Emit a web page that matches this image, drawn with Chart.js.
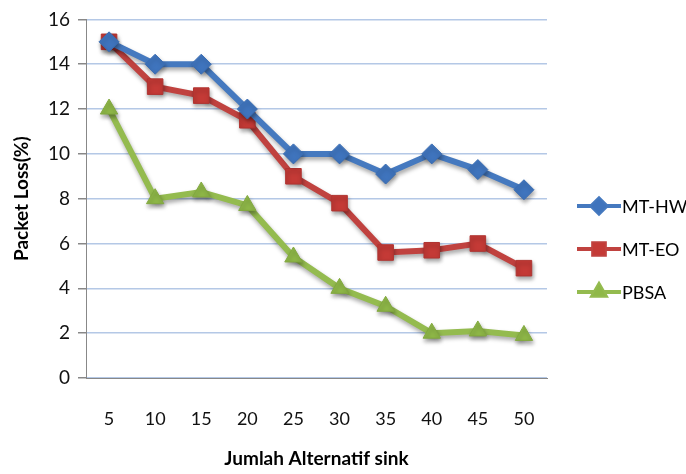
<!DOCTYPE html>
<html>
<head>
<meta charset="utf-8">
<script src="https://cdn.jsdelivr.net/npm/chart.js@4/dist/chart.umd.min.js"></script>
<style>
  html, body { margin: 0; padding: 0; background: #fff; }
  #wrap { width: 686px; height: 474px; }
</style>
</head>
<body>
<div id="wrap"><canvas id="chart"></canvas></div>
<script>
const sinkLabels = ['5', '10', '15', '20', '25', '30', '35', '40', '45', '50'];
const mtHw = [15, 14, 14, 12, 10, 10, 9.1, 10, 9.3, 8.4];
const mtEo = [15, 13, 12.6, 11.5, 9, 7.8, 5.6, 5.7, 6, 4.9];
const pbsa = [12, 8, 8.3, 7.7, 5.4, 4, 3.2, 2, 2.1, 1.9];
const seriesNames = ['MT-HW', 'MT-EO', 'PBSA'];

const FONT = 'Lato, "Open Sans", sans-serif';

// soft drop shadow on the lines and markers
const shadow = {
    id: 'shadow',
    beforeDatasetsDraw(chart) {
        const { ctx } = chart;
        ctx.save();
        ctx.shadowColor = 'rgba(0,0,0,0.35)';
        ctx.shadowBlur = 4;
        ctx.shadowOffsetX = 1;
        ctx.shadowOffsetY = 3;
    },
    afterDatasetsDraw(chart) {
        chart.ctx.restore();
    },
};

// legend drawn as line + marker, like the original
const sideLegend = {
    id: 'sideLegend',
    afterDraw(chart) {
        const { ctx } = chart;
        const ys = [206, 249, 292];
        ctx.save();
        chart.data.datasets.forEach((ds, i) => {
            const y = ys[i];
            ctx.strokeStyle = ds.borderColor;
            ctx.lineWidth = 4;
            ctx.beginPath();
            ctx.moveTo(577, y);
            ctx.lineTo(621, y);
            ctx.stroke();
            Chart.helpers.drawPoint(ctx, {
                pointStyle: ds.pointStyle,
                radius: ds.pointRadius * 0.75,
                rotation: 0,
                borderWidth: 1,
            }, 599, y);
            ctx.fillStyle = ds.pointBackgroundColor;
            ctx.strokeStyle = ds.pointBorderColor;
            ctx.fill();
            ctx.fillStyle = '#000';
            ctx.font = '18px ' + FONT;
            ctx.textAlign = 'left';
            ctx.textBaseline = 'middle';
            ctx.fillText(ds.label, 622, y + 1);
        });
        ctx.restore();
    },
};

const ctx = document.getElementById('chart').getContext('2d');

new Chart(ctx, {
    type: 'line',
    data: {
        labels: sinkLabels,
        datasets: [{
            label: seriesNames[0],
            data: mtHw,
            borderColor: '#4579bf',
            pointBackgroundColor: '#3f74bd',
            pointBorderColor: '#3a6db3',
            pointStyle: 'rectRot',
            pointRadius: 10,
        }, {
            label: seriesNames[1],
            data: mtEo,
            borderColor: '#c0423f',
            pointBackgroundColor: '#c43a36',
            pointBorderColor: '#b03431',
            pointStyle: 'rect',
            pointRadius: 11,
        }, {
            label: seriesNames[2],
            data: pbsa,
            borderColor: '#94bb4f',
            pointBackgroundColor: '#8fb848',
            pointBorderColor: '#82a93f',
            pointStyle: 'triangle',
            pointRadius: 10,
        }].map(d => Object.assign(d, { borderWidth: 6, pointBorderWidth: 1, tension: 0 })),
    },
    options: {
        responsive: true,
        maintainAspectRatio: false,
        animation: false,
        layout: { padding: { top: 18, right: 139, left: 0, bottom: 0 } },
        plugins: {
            legend: { display: false },
            tooltip: { enabled: false },
        },
        scales: {
            x: {
                offset: true,
                grid: { display: false, offset: true },
                border: { color: '#888', width: 1 },
                ticks: { color: '#111', font: { family: FONT, size: 18 }, padding: 22 },
                title: {
                    display: true,
                    text: 'Jumlah Alternatif sink',
                    color: '#000',
                    font: { family: FONT, size: 19, weight: 'bold' },
                    padding: { top: 21 },
                },
                afterFit(scale) { scale.height = 96; },
            },
            y: {
                min: 0,
                max: 16,
                ticks: { stepSize: 2, color: '#111', font: { family: FONT, size: 19 }, padding: 8 },
                grid: { color: '#b4c8e6', lineWidth: 1.5, tickColor: '#888', tickLength: 8 },
                border: { color: '#888', width: 1 },
                title: {
                    display: true,
                    text: 'Packet Loss(%)',
                    color: '#000',
                    font: { family: FONT, size: 19, weight: 'bold' },
                    padding: { top: 10, bottom: 4 },
                },
                afterFit(scale) { scale.width = 86; },
            },
        },
    },
    plugins: [shadow, sideLegend],
});
</script>
</body>
</html>
